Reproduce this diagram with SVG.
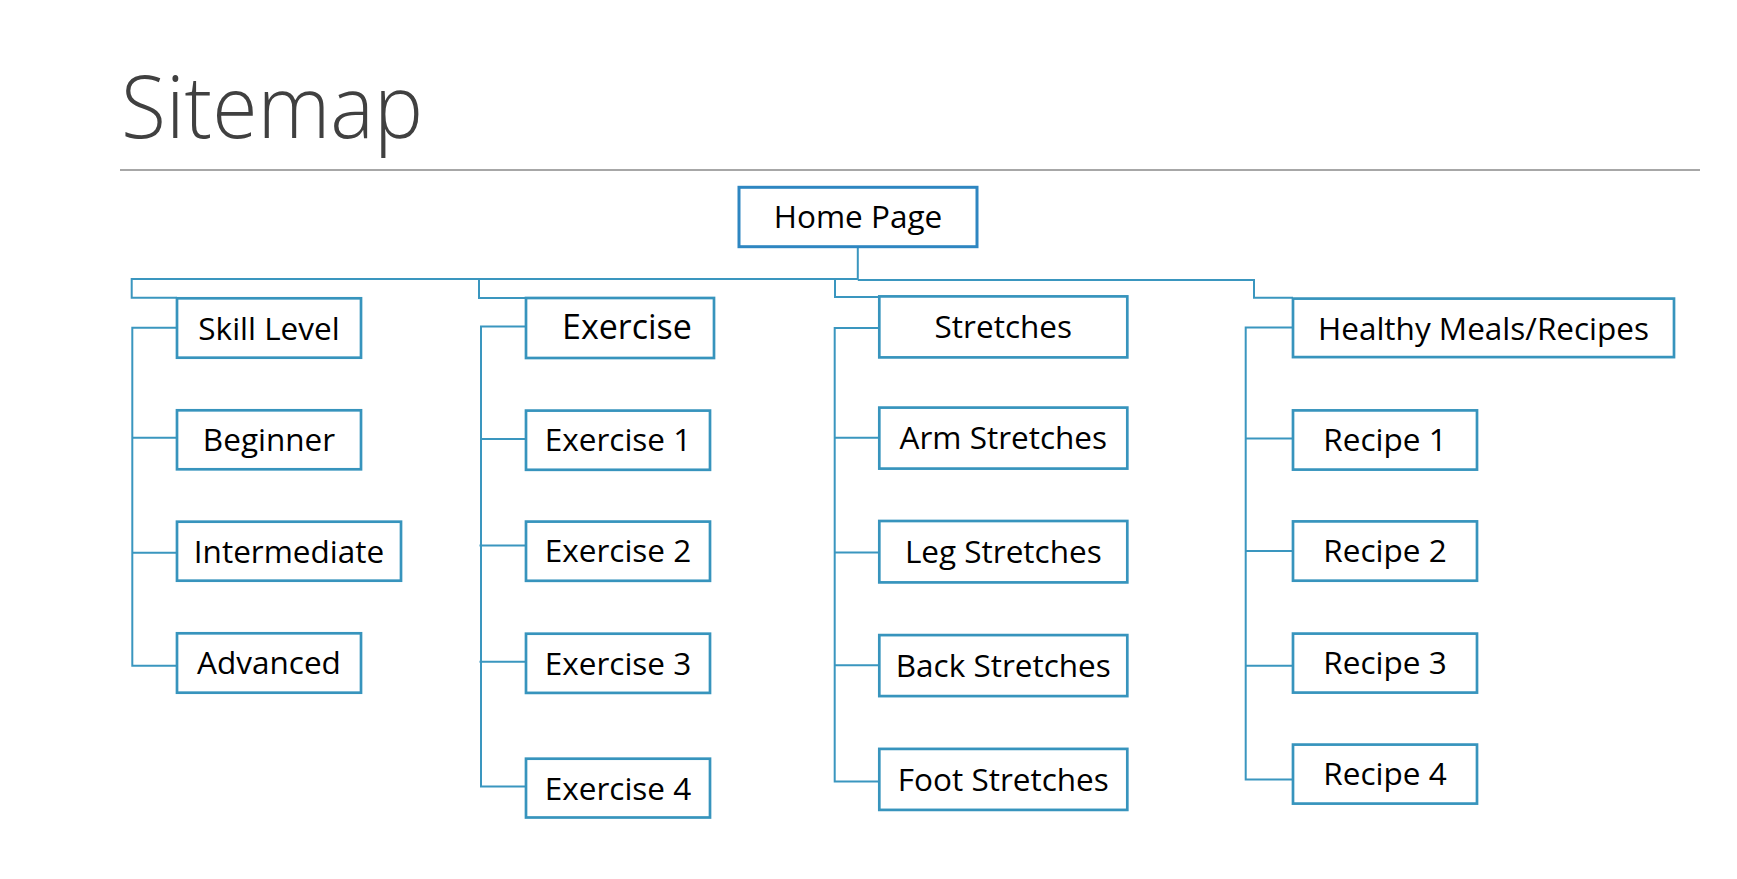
<svg xmlns="http://www.w3.org/2000/svg" width="1737" height="879" viewBox="0 0 1737 879">
<style>
  .box { fill: #ffffff; stroke: #3794BD; stroke-width: 2.7; }
  .home { fill: #ffffff; stroke: #2E86C1; stroke-width: 3; }
  .lbl { font-family: "Open Sans", "Liberation Sans", sans-serif; font-size: 31.5px; fill: #000000; text-anchor: middle; }
  .big { font-size: 34px; }
  .conn { fill: none; stroke: #3A96BF; stroke-width: 2; }
  .title { font-family: "Open Sans", "Liberation Sans", sans-serif; font-weight: 300; font-size: 86px; fill: #404040; }
</style>
<rect width="1737" height="879" fill="#ffffff"/>
<text class="title" x="121" y="138" textLength="302" lengthAdjust="spacingAndGlyphs">Sitemap</text>
<line x1="120" y1="170" x2="1700" y2="170" stroke="#8A8A8A" stroke-width="1.5"/>

<g id="connectors">
  <path class="conn" d="M857.8,246.7 V279.5"/>
  <path class="conn" d="M857.8,279 H131.7 V297.7 H177"/>
  <path class="conn" d="M479,279 V298 H526"/>
  <path class="conn" d="M835,279.5 V297 H879"/>
  <path class="conn" d="M857.8,280 H1254 V297.7 H1293"/>
  <path class="conn" d="M177,327.7 H132.3 V665.7 H177 M132.3,437.7 H177 M132.3,552.7 H177"/>
  <path class="conn" d="M526,326.6 H481 V786.5 H526 M481,439 H526 M479.5,545.6 H526 M479.5,661.8 H526"/>
  <path class="conn" d="M879,328 H834.7 V781.6 H879 M834.7,437.8 H879 M834.7,552.6 H879 M834.7,665.3 H879"/>
  <path class="conn" d="M1293,327.5 H1245.7 V779.6 H1293 M1245.7,438.6 H1293 M1245.7,551 H1293 M1245.7,665.7 H1293"/>
</g>

<g id="home"><rect class="home" x="739" y="187.3" width="238" height="59.4"/><text class="lbl" x="858" y="227.8">Home Page</text></g>

<g id="skill"><rect class="box" x="177" y="298.3" width="184" height="59.4"/><text class="lbl" x="269" y="339.5">Skill Level</text></g>
<g id="beginner"><rect class="box" x="177" y="410.3" width="184" height="59"/><text class="lbl" x="269" y="451.3">Beginner</text></g>
<g id="intermediate"><rect class="box" x="177" y="521.7" width="224" height="59"/><text class="lbl" x="289" y="562.7">Intermediate</text></g>
<g id="advanced"><rect class="box" x="177" y="633.3" width="184" height="59.4"/><text class="lbl" x="269" y="674.3">Advanced</text></g>

<g id="exercise"><rect class="box" x="526" y="298" width="188" height="60"/><text class="lbl big" x="627" y="339">Exercise</text></g>
<g id="exercise1"><rect class="box" x="526" y="410.6" width="184" height="59.2"/><text class="lbl" x="618" y="451">Exercise 1</text></g>
<g id="exercise2"><rect class="box" x="526" y="521.6" width="184" height="59.2"/><text class="lbl" x="618" y="562.4">Exercise 2</text></g>
<g id="exercise3"><rect class="box" x="526" y="633.7" width="184" height="59.2"/><text class="lbl" x="618" y="674.5">Exercise 3</text></g>
<g id="exercise4"><rect class="box" x="526" y="758.7" width="184" height="58.8"/><text class="lbl" x="618" y="799.5">Exercise 4</text></g>

<g id="stretches"><rect class="box" x="879.3" y="296.4" width="248" height="61"/><text class="lbl" x="1003.3" y="338.2">Stretches</text></g>
<g id="arm"><rect class="box" x="879.3" y="407.6" width="248" height="61"/><text class="lbl" x="1003.3" y="449">Arm Stretches</text></g>
<g id="leg"><rect class="box" x="879.3" y="521" width="248" height="61.4"/><text class="lbl" x="1003.3" y="562.8">Leg Stretches</text></g>
<g id="back"><rect class="box" x="879.3" y="635.1" width="248" height="61"/><text class="lbl" x="1003.3" y="676.5">Back Stretches</text></g>
<g id="foot"><rect class="box" x="879.3" y="748.9" width="248" height="61"/><text class="lbl" x="1003.3" y="790.5">Foot Stretches</text></g>

<g id="healthy"><rect class="box" x="1293" y="298.6" width="381" height="58.5"/><text class="lbl" x="1483.5" y="339.5">Healthy Meals/Recipes</text></g>
<g id="recipe1"><rect class="box" x="1293" y="410.4" width="184" height="59.2"/><text class="lbl" x="1385" y="451">Recipe 1</text></g>
<g id="recipe2"><rect class="box" x="1293" y="521.4" width="184" height="59.3"/><text class="lbl" x="1385" y="562.2">Recipe 2</text></g>
<g id="recipe3"><rect class="box" x="1293" y="633.6" width="184" height="59"/><text class="lbl" x="1385" y="674.4">Recipe 3</text></g>
<g id="recipe4"><rect class="box" x="1293" y="744.6" width="184" height="59"/><text class="lbl" x="1385" y="785.4">Recipe 4</text></g>
</svg>
